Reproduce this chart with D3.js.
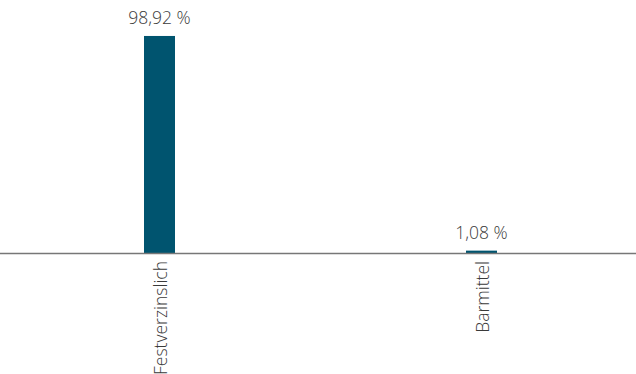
<!DOCTYPE html>
<html>
<head>
<meta charset="utf-8">
<script src="https://cdn.jsdelivr.net/npm/d3@7"></script>
<style>
  body { margin: 0; background: #fff; }
  svg { display: block; font-family: "Open Sans", "Noto Sans", sans-serif; }
  .val { font-size: 17.5px; font-weight: 300; fill: #3a3a3a; }
  .cat { font-size: 17.5px; font-weight: 300; fill: #3a3a3a; }
</style>
</head>
<body>
<svg id="chart"></svg>
<script>
const categories = ['Festverzinslich', 'Barmittel'];
const values = [98.92, 1.08];
const valueLabels = ['98,92 %', '1,08 %'];

const width = 636, height = 374;
const baseY = 253;
const barWidth = 31;

const svg = d3.select('#chart').attr('width', width).attr('height', height);

const xScale = d3.scaleBand().domain(categories).range([-1.5, 642.5]).padding(0);
const yScale = d3.scaleLinear().domain([0, 100]).range([baseY, 33.6]);

const data = categories.map((c, i) => ({ key: c, value: values[i], label: valueLabels[i] }));
const cx = d => xScale(d.key) + xScale.bandwidth() / 2;

svg.selectAll('.bar').data(data).join('rect')
  .attr('class', 'bar')
  .attr('x', d => cx(d) - barWidth / 2)
  .attr('width', barWidth)
  .attr('y', d => yScale(d.value))
  .attr('height', d => baseY - yScale(d.value))
  .attr('fill', '#00546f');

svg.append('line')
  .attr('x1', 0).attr('x2', width)
  .attr('y1', baseY + 0.5).attr('y2', baseY + 0.5)
  .attr('stroke', '#777').attr('stroke-width', 1.5);

svg.selectAll('.val').data(data).join('text')
  .attr('class', 'val')
  .attr('x', d => cx(d))
  .attr('y', d => yScale(d.value) - 12)
  .attr('text-anchor', 'middle')
  .text(d => d.label);

svg.selectAll('.cat').data(data).join('text')
  .attr('class', 'cat')
  .attr('transform', d => `translate(${cx(d) + 7},${baseY + 8}) rotate(-90)`)
  .attr('text-anchor', 'end')
  .text(d => d.key);
</script>
</body>
</html>
